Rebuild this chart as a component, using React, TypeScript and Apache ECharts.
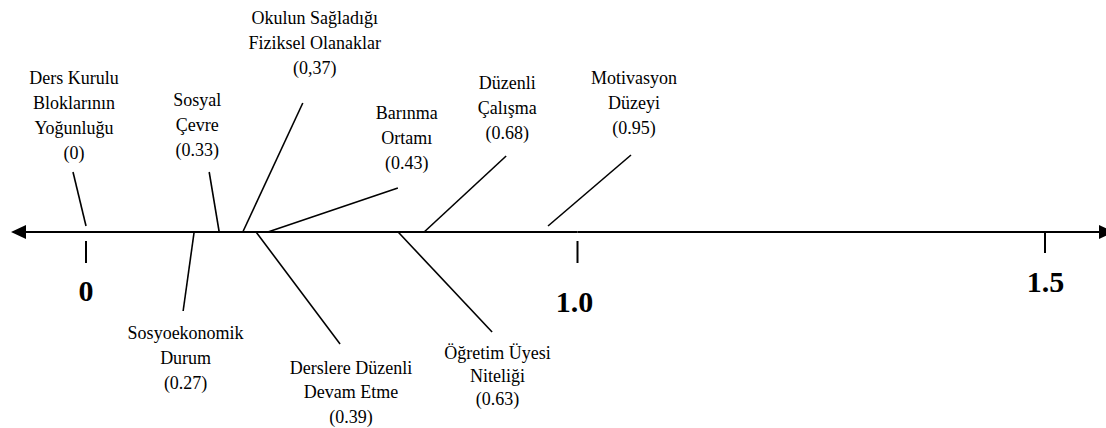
import React, { useEffect, useRef } from "react";
import * as echarts from "echarts";

// ---- data ----
const factorNames: string[][] = [
  ["Ders Kurulu", "Bloklarının", "Yoğunluğu"],
  ["Sosyal", "Çevre"],
  ["Okulun Sağladığı", "Fiziksel Olanaklar"],
  ["Barınma", "Ortamı"],
  ["Düzenli", "Çalışma"],
  ["Motivasyon", "Düzeyi"],
  ["Sosyoekonomik", "Durum"],
  ["Derslere Düzenli", "Devam Etme"],
  ["Öğretim Üyesi", "Niteliği"],
];
const factorValues = [0, 0.33, 0.37, 0.43, 0.68, 0.95, 0.27, 0.39, 0.63];
// where each spoke meets the axis, as drawn (axis units)
const spokePositions = [0, 0.271, 0.319, 0.37, 0.688, 0.94, 0.22, 0.346, 0.635];
const commaDecimal = [false, false, true, false, false, false, false, false, false];
const tickValues = [0, 1.0, 1.5];
const tickLabels = ["0", "1.0", "1.5"];
const axisExtent = [-0.1526, 1.5738];

// ---- layout (pixel offsets relative to the spoke's anchor on the axis) ----
const spokeLayout = [
  { start: -6, tip: [-13, -60], label: [-12, -116.5], lh: 25 },
  { start: 0, tip: [-10, -60], label: [-22, -107], lh: 25 },
  { start: 0, tip: [60, -129], label: [72, -189], lh: 25 },
  { start: 0, tip: [130, -44], label: [139, -94], lh: 25 },
  { start: 0, tip: [82, -76], label: [83, -124], lh: 25 },
  { start: -6, tip: [83, -77], label: [86, -129], lh: 25 },
  { start: 0, tip: [-11, 79], label: [-8.5, 126], lh: 25 },
  { start: 0, tip: [84, 112], label: [95, 160], lh: 24.5 },
  { start: 0, tip: [94, 100], label: [99.5, 144], lh: 23 },
];
const tickLayout = [
  { from: 9, to: 31, label: [0, 58] },
  { from: 9, to: 31, label: [-3, 69] },
  { from: 0, to: 21, label: [0.5, 49] },
];

const SERIF = "Liberation Serif";

function formatValue(v: number, comma: boolean) {
  const s = v === 0 ? "0" : v.toFixed(2);
  return "(" + (comma ? s.replace(".", ",") : s) + ")";
}

export default function App() {
  const ref = useRef<HTMLDivElement>(null);
  useEffect(() => {
    if (!ref.current) return;
    const chart = echarts.init(ref.current, undefined, { renderer: "svg" });

    const spokeRender = (params: any, api: any) => {
      const i = params.dataIndex;
      const [ax, ay] = api.coord([api.value(0), 0]);
      const L = spokeLayout[i];
      const text = [...factorNames[i], formatValue(factorValues[i], commaDecimal[i])].join("\n");
      return {
        type: "group",
        children: [
          {
            type: "line",
            shape: { x1: ax, y1: ay + L.start, x2: ax + L.tip[0], y2: ay + L.tip[1] },
            style: { stroke: "#000", lineWidth: 1.6 },
          },
          {
            type: "text",
            style: {
              text,
              x: ax + L.label[0],
              y: ay + L.label[1],
              align: "center",
              verticalAlign: "middle",
              font: `18px ${SERIF}`,
              fontSize: 18,
              fontFamily: SERIF,
              lineHeight: L.lh,
              fill: "#000",
            },
          },
        ],
      };
    };

    const tickRender = (params: any, api: any) => {
      const idx = api.value(2);
      const [ax, ay] = api.coord([api.value(0), 0]);
      const T = tickLayout[idx];
      return {
        type: "group",
        children: [
          {
            type: "line",
            shape: { x1: ax, y1: ay + T.from, x2: ax, y2: ay + T.to },
            style: { stroke: "#000", lineWidth: 2 },
          },
          {
            type: "text",
            style: {
              text: tickLabels[idx],
              x: ax + T.label[0],
              y: ay + T.label[1],
              align: "center",
              verticalAlign: "middle",
              font: `bold 30px ${SERIF}`,
              fontSize: 30,
              fontWeight: "bold",
              fontFamily: SERIF,
              fill: "#000",
            },
          },
        ],
      };
    };

    const axisLeftRender = (params: any, api: any) => {
      const [x1, y] = api.coord([api.value(0), 0]);
      const [x2] = api.coord([api.value(1), 0]);
      return {
        type: "group",
        children: [
          { type: "line", shape: { x1: x1 + 10, y1: y, x2, y2: y }, style: { stroke: "#000", lineWidth: 2 } },
          {
            type: "polygon",
            shape: { points: [[x1, y], [x1 + 15, y - 7], [x1 + 15, y + 7]] },
            style: { fill: "#000" },
          },
        ],
      };
    };
    const axisRightRender = (params: any, api: any) => {
      const [x1, y] = api.coord([api.value(0), 0]);
      const [x2] = api.coord([api.value(1), 0]);
      return {
        type: "group",
        children: [
          { type: "line", shape: { x1, y1: y, x2: x2 - 10, y2: y }, style: { stroke: "#000", lineWidth: 2 } },
          {
            type: "polygon",
            shape: { points: [[x2, y], [x2 - 15, y - 7], [x2 - 15, y + 7]] },
            style: { fill: "#000" },
          },
        ],
      };
    };

    const tickData = tickValues.map((v, i) => [v, 0, i]);

    chart.setOption({
      animation: false,
      backgroundColor: "#fff",
      grid: [
        { left: 86, width: 491.5, top: 36, height: 392 },
        { left: 577.5, width: 467.5, top: 36, height: 392 },
      ],
      xAxis: [
        { type: "value", gridIndex: 0, min: 0, max: 1, show: false },
        { type: "value", gridIndex: 1, min: 1, max: 1.5, show: false },
      ],
      yAxis: [
        { type: "value", gridIndex: 0, min: -1, max: 1, show: false },
        { type: "value", gridIndex: 1, min: -1, max: 1, show: false },
      ],
      series: [
        {
          type: "custom",
          xAxisIndex: 0,
          yAxisIndex: 0,
          data: [[axisExtent[0], 1]],
          renderItem: axisLeftRender,
          silent: true,
        },
        {
          type: "custom",
          xAxisIndex: 1,
          yAxisIndex: 1,
          data: [[1, axisExtent[1]]],
          renderItem: axisRightRender,
          silent: true,
        },
        {
          type: "custom",
          xAxisIndex: 0,
          yAxisIndex: 0,
          data: tickData.filter((d) => d[0] <= 1),
          renderItem: tickRender,
          silent: true,
        },
        {
          type: "custom",
          xAxisIndex: 1,
          yAxisIndex: 1,
          data: tickData.filter((d) => d[0] > 1),
          renderItem: tickRender,
          silent: true,
        },
        {
          type: "custom",
          xAxisIndex: 0,
          yAxisIndex: 0,
          data: spokePositions.map((p) => [p, 0]),
          renderItem: spokeRender,
          silent: true,
        },
      ],
    });
    return () => chart.dispose();
  }, []);
  return (
    <div
      ref={ref}
      style={{ position: "fixed", left: 0, top: 0, width: 1106, height: 428, background: "#fff" }}
    />
  );
}
